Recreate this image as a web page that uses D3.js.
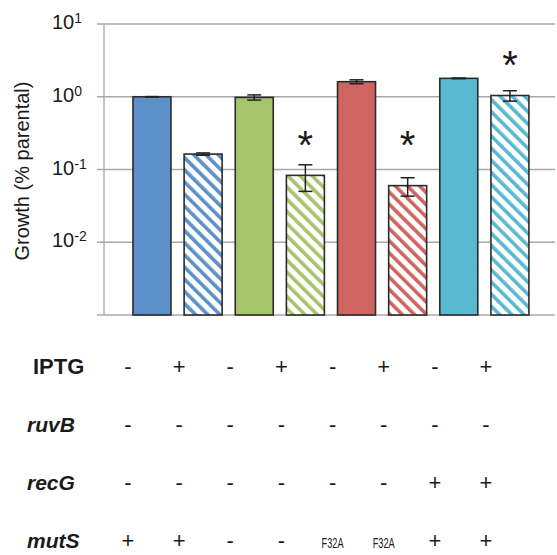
<!DOCTYPE html>
<html>
<head>
<meta charset="utf-8">
<script src="https://cdn.jsdelivr.net/npm/d3@7"></script>
<style>
  body { margin: 0; background: #fff; }
  text { font-family: "Liberation Sans", Arial, sans-serif; fill: #1a1a1a; }
</style>
</head>
<body>
<div id="chart"></div>
<script>
// bar values (growth, % parental), log scale
var conditions = ["c1", "c2", "c3", "c4", "c5", "c6", "c7", "c8"];
var growth = [1.0, 0.163, 0.98, 0.083, 1.61, 0.060, 1.79, 1.04];
var errors = [0.006, 0.006, 0.08, 0.033, 0.1, 0.017, 0.02, 0.17];
var hatched = [false, true, false, true, false, true, false, true];
var colors = ["#5b91c8", "#5b91c8", "#a6c46c", "#a6c46c", "#cf6561", "#cf6561", "#58b9d1", "#58b9d1"];
var stars = [null, null, null, 0.24, null, 0.24, null, 3.0];
var yTicks = [-3, -2, -1, 0, 1];

// table under the chart
var rowLabels = ["IPTG", "ruvB", "recG", "mutS"];
var rowItalic = [false, true, true, true];
var iptg = ["-", "+", "-", "+", "-", "+", "-", "+"];
var ruvB = ["-", "-", "-", "-", "-", "-", "-", "-"];
var recG = ["-", "-", "-", "-", "-", "-", "+", "+"];
var mutS = ["+", "+", "-", "-", "F32A", "F32A", "+", "+"];
var tableRows = [iptg, ruvB, recG, mutS];

var width = 557, height = 555;

var svg = d3.select("#chart").append("svg")
    .attr("width", width)
    .attr("height", height);

var y = d3.scaleLog()
    .domain([1e-3, 10])
    .range([315, 24]);

var x = d3.scaleBand()
    .domain(conditions)
    .range([126.4, 535.5])
    .paddingInner(0.257)
    .paddingOuter(0.1285);

// hatch patterns
var defs = svg.append("defs");
colors.forEach(function(c, i) {
    if (!hatched[i]) return;
    var p = defs.append("pattern")
        .attr("id", "hatch" + i)
        .attr("patternUnits", "userSpaceOnUse")
        .attr("width", 8.6)
        .attr("height", 8.6)
        .attr("patternTransform", "rotate(-45)");
    p.append("rect").attr("width", 8.6).attr("height", 8.6).attr("fill", "#fff");
    p.append("rect").attr("x", 0).attr("width", 3.6).attr("height", 8.6).attr("fill", c);
});

// grid lines
svg.append("g").selectAll("line")
    .data(yTicks)
    .enter().append("line")
    .attr("x1", 97)
    .attr("x2", 555)
    .attr("y1", function(d) { return y(Math.pow(10, d)); })
    .attr("y2", function(d) { return y(Math.pow(10, d)); })
    .attr("stroke", "#a8a8a8")
    .attr("stroke-width", 1.3);

svg.append("line")
    .attr("x1", 104).attr("x2", 104)
    .attr("y1", y(10)).attr("y2", y(1e-3))
    .attr("stroke", "#a8a8a8")
    .attr("stroke-width", 1.3);

// tick labels
var tl = svg.append("g").selectAll("text")
    .data(yTicks.filter(function(d) { return d > -3; }))
    .enter().append("text")
    .attr("x", 52)
    .attr("y", function(d) { return y(Math.pow(10, d)) + 5; })
    .style("font-size", "20px");
tl.append("tspan").text("10");
tl.append("tspan")
    .attr("dy", -6)
    .style("font-size", "14px")
    .text(function(d) { return d; });

svg.append("text")
    .attr("transform", "translate(29,171) rotate(-90)")
    .attr("text-anchor", "middle")
    .style("font-size", "20px")
    .text("Growth (% parental)");

// bars
svg.append("g").selectAll("rect")
    .data(conditions)
    .enter().append("rect")
    .attr("x", function(d) { return x(d); })
    .attr("width", x.bandwidth())
    .attr("y", function(d, i) { return y(growth[i]); })
    .attr("height", function(d, i) { return y(1e-3) - y(growth[i]); })
    .attr("fill", function(d, i) { return hatched[i] ? "url(#hatch" + i + ")" : colors[i]; })
    .attr("stroke", "#2b2b2b")
    .attr("stroke-width", 1.6);

// error bars
var eb = svg.append("g").selectAll("g")
    .data(conditions)
    .enter().append("g")
    .attr("stroke", "#222")
    .attr("stroke-width", 1.5);
eb.append("line")
    .attr("x1", function(d) { return x(d) + x.bandwidth() / 2; })
    .attr("x2", function(d) { return x(d) + x.bandwidth() / 2; })
    .attr("y1", function(d, i) { return y(growth[i] + errors[i]); })
    .attr("y2", function(d, i) { return y(growth[i] - errors[i]); });
[1, -1].forEach(function(s) {
    eb.append("line")
        .attr("x1", function(d) { return x(d) + x.bandwidth() / 2 - 7; })
        .attr("x2", function(d) { return x(d) + x.bandwidth() / 2 + 7; })
        .attr("y1", function(d, i) { return y(growth[i] + s * errors[i]); })
        .attr("y2", function(d, i) { return y(growth[i] + s * errors[i]); });
});

// significance stars
svg.append("g").selectAll("text")
    .data(conditions.filter(function(d, i) { return stars[i] != null; }))
    .enter().append("text")
    .attr("x", function(d) { return x(d) + x.bandwidth() / 2; })
    .attr("y", function(d) { return y(stars[conditions.indexOf(d)]) + 17; })
    .attr("text-anchor", "middle")
    .style("font-size", "40px")
    .text("*");

// table
var col = d3.scalePoint()
    .domain(conditions)
    .range([128, 486]);
var row = d3.scalePoint()
    .domain(rowLabels)
    .range([374, 548]);

svg.append("g").selectAll("text")
    .data(rowLabels)
    .enter().append("text")
    .attr("x", function(d, i) { return rowItalic[i] ? 27 : 33; })
    .attr("y", function(d) { return row(d); })
    .style("font-size", function(d, i) { return rowItalic[i] ? "21px" : "22px"; })
    .style("font-weight", "bold")
    .style("font-style", function(d, i) { return rowItalic[i] ? "italic" : "normal"; })
    .text(function(d) { return d; });

tableRows.forEach(function(vals, r) {
    svg.append("g").selectAll("text")
        .data(vals)
        .enter().append("text")
        .attr("x", function(d, i) { return col(conditions[i]); })
        .attr("y", row(rowLabels[r]))
        .attr("text-anchor", "middle")
        .style("font-size", function(d) { return d.length > 1 ? "14px" : "22px"; })
        .attr("textLength", function(d) { return d.length > 1 ? 22 : null; })
        .attr("lengthAdjust", "spacingAndGlyphs")
        .text(function(d) { return d; });
});
</script>
</body>
</html>
